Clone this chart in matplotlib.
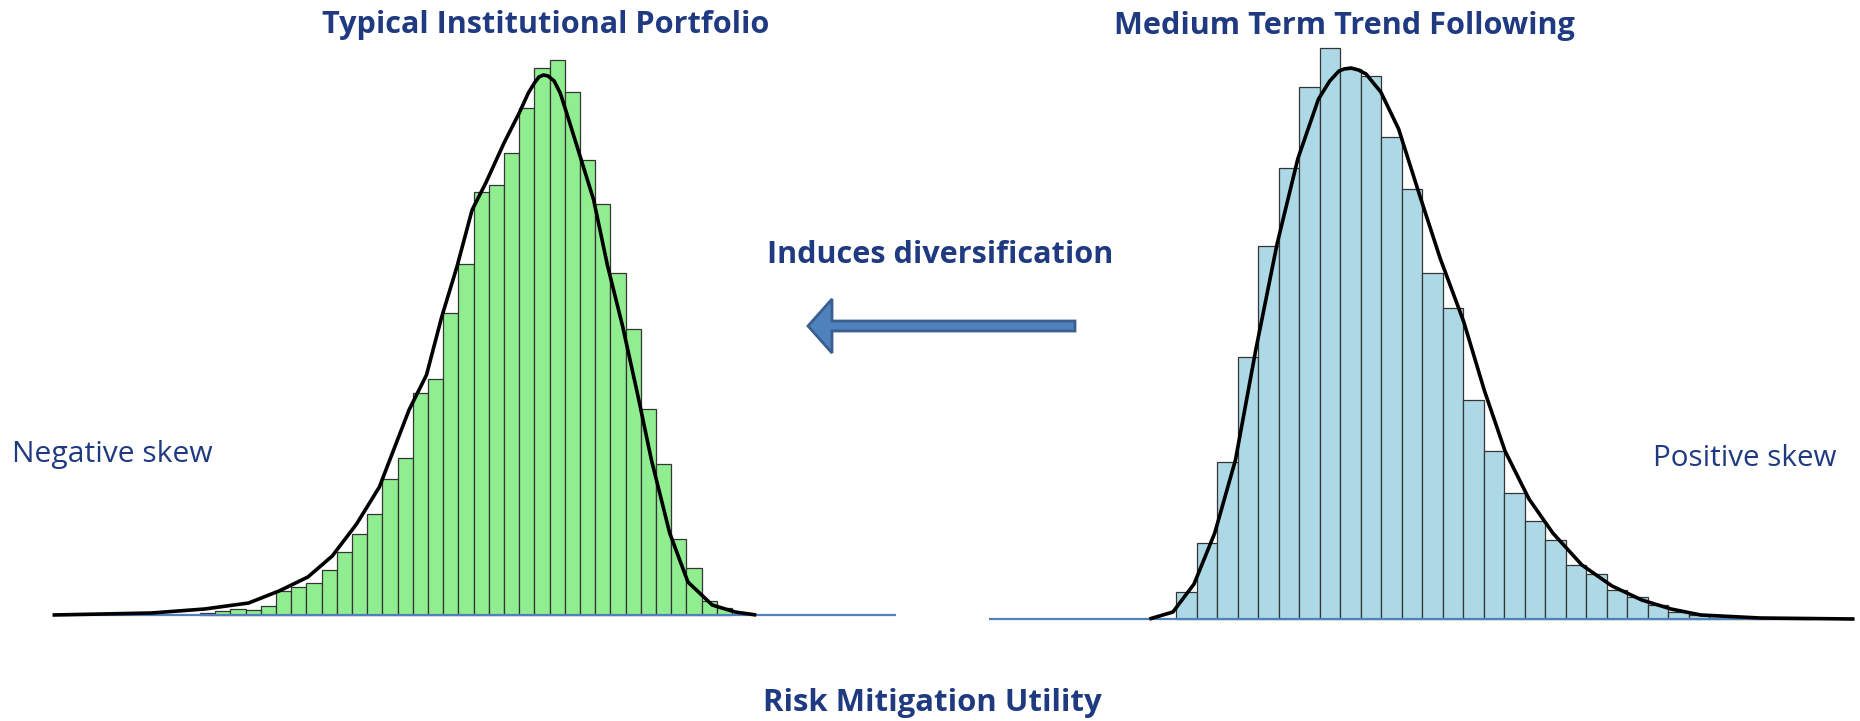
import matplotlib
matplotlib.use("Agg")
import matplotlib.pyplot as plt
from matplotlib.patches import FancyArrow
import numpy as np

# histogram counts per bin
left_counts = [2, 4, 6, 5, 9, 24, 28, 32, 45, 63, 81, 101, 136, 157, 222, 236, 302, 351,
               423, 430, 462, 507, 547, 555, 523, 455, 411, 342, 286, 206, 151, 76, 47, 14, 7]
right_counts = [27, 76, 157, 262, 373, 451, 532, 571, 550, 543, 482, 430, 346, 311, 219, 168,
                126, 98, 79, 54, 45, 29, 22, 14, 7, 4, 3, 2, 1, 1, 1]

# fitted density curves, in bin units
left_curve_x = [-9.7, -3.2, 0.3, 3.2, 5.2, 7.1, 8.7, 10.3, 11.8, 13.75, 14.9, 15.9, 16.9, 17.9,
                18.8, 20.0, 21.0, 21.6, 22.0, 22.3, 22.6, 22.9, 23.3, 23.7, 24.1, 24.9, 25.9,
                26.8, 27.8, 28.8, 29.7, 30.9, 32.1, 33.7, 35.2, 36.6]
left_curve_y = [0, 2, 6, 12, 24, 38, 59, 91, 128, 205, 240, 298, 348, 405, 432, 472, 502, 522,
                532, 538, 540, 539, 534, 522, 503, 464, 415, 350, 289, 220, 155, 82, 33, 10, 3, 0]
right_curve_x = [-1.3, -0.15, 0.88, 1.89, 2.9, 3.9, 4.93, 5.94, 6.95, 7.5, 7.95, 8.2, 8.54,
                 8.9, 9.27, 9.99, 10.86, 11.85, 12.88, 14.04, 15.05, 16.05, 17.22, 18.38, 19.8,
                 21.27, 22.72, 24.15, 25.6, 28.5, 33.1]
right_curve_y = [0, 7, 35, 86, 159, 270, 375, 460, 520, 538, 548, 550, 551, 549, 545, 527, 490,
                 426, 361, 297, 228, 168, 120, 86, 54, 33, 19, 10, 4, 1, 0]

titles = ["Typical Institutional Portfolio", "Medium Term Trend Following"]
skew_labels = ["Negative skew", "Positive skew"]
arrow_label = "Induces diversification"
bottom_label = "Risk Mitigation Utility"

W, H = 1860, 721
navy = "#1f3a80"
line_blue = "#4f81bd"
plt.rcParams["font.family"] = ["Open Sans", "DejaVu Sans"]

fig = plt.figure(figsize=(W / 100, H / 100), dpi=100)


def px_axes(left, right, top, bottom):
    return fig.add_axes([left / W, 1 - bottom / H, (right - left) / W, (bottom - top) / H])


def draw_hist(ax, counts, cx, cy, color, line_span):
    ax.bar(np.arange(len(counts)), counts, width=1, align="edge", color=color,
           edgecolor="#353535", linewidth=0.9, clip_on=False, zorder=2)
    ax.hlines(0, line_span[0], line_span[1], color=line_blue, linewidth=1.6, zorder=3, clip_on=False)
    ax.plot(cx, cy, color="black", linewidth=2.6, zorder=4, clip_on=False,
            solid_joinstyle="round", solid_capstyle="butt")
    ax.set_axis_off()


# left panel: bin 0 at x=200px, bin width 15.2px, baseline at y=615px
axl = px_axes(40, 900, 40, 615)
axl.set_xlim((40 - 200) / 15.2, (900 - 200) / 15.2)
axl.set_ylim(0, 575)
draw_hist(axl, left_counts, left_curve_x, left_curve_y, "#90ee90", (-9.1, 45.8))

# right panel: bin 0 at x=1176px, bin width 20.5px, baseline at y=619px
axr = px_axes(960, 1860, 40, 619)
axr.set_xlim((960 - 1176) / 20.5, (1860 - 1176) / 20.5)
axr.set_ylim(0, 579)
draw_hist(axr, right_counts, right_curve_x, right_curve_y, "#add8e6", (-9.1, 31.0))

# overlay in pixel coords for texts and the arrow
ov = fig.add_axes([0, 0, 1, 1])
ov.set_xlim(0, W)
ov.set_ylim(H, 0)
ov.set_axis_off()

ov.add_patch(FancyArrow(1075, 326, -267, 0, width=10, head_width=54, head_length=24,
                        length_includes_head=True, fc="#4f81bd", ec="#3a5f8e", lw=2))

renderer = fig.canvas.get_renderer()


def put(x, y, s, width, bold=False, size=20):
    t = ov.text(x, y, s, ha="center", va="baseline", color=navy, fontsize=size,
                fontweight="bold" if bold else "normal")
    w = t.get_window_extent(renderer).width
    t.set_fontsize(size * width / w)
    return t


put(546, 33, titles[0], 447, bold=True)
put(1344, 34, titles[1], 460, bold=True)
put(940, 263, arrow_label, 347, bold=True)
put(112, 462, skew_labels[0], 200)
put(1745, 466, skew_labels[1], 183)
put(932, 711, bottom_label, 338, bold=True)

fig.savefig("out.png", dpi=100)
